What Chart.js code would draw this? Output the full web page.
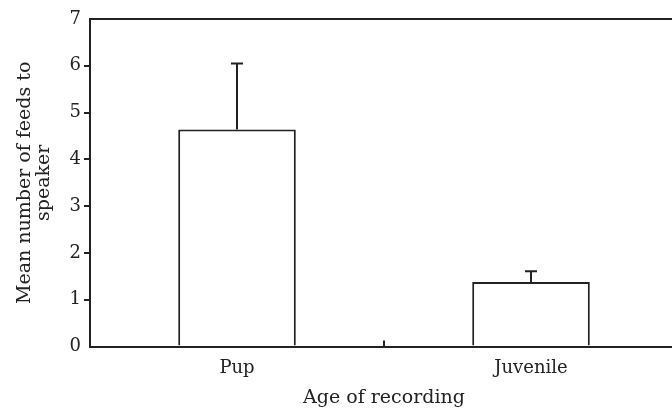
<!DOCTYPE html>
<html>
<head>
<meta charset="utf-8">
<script src="https://cdn.jsdelivr.net/npm/chart.js@4"></script>
<style>
  html, body { margin: 0; padding: 0; background: #fff; overflow: hidden; }
  #wrap { width: 690px; height: 412px; }
</style>
</head>
<body>
<div id="wrap"><canvas id="grafico"></canvas></div>
<script>
// Dados
const categories = ['Pup', 'Juvenile'];
const means = [4.64, 1.38];
const errors = [1.41, 0.23];
const yTicks = [0, 1, 2, 3, 4, 5, 6, 7];

const ink = '#222';
const serif = "'DejaVu Serif', 'Liberation Serif', serif";

// Barras de erro, linha superior e marca entre categorias
const extras = {
  id: 'extras',
  afterDatasetsDraw(chart) {
    const ctx = chart.ctx;
    const x = chart.scales.x;
    const y = chart.scales.y;
    const area = chart.chartArea;
    ctx.save();
    ctx.strokeStyle = ink;
    ctx.lineWidth = 2;

    means.forEach((m, i) => {
      const px = x.getPixelForValue(i);
      const top = y.getPixelForValue(m);
      const end = y.getPixelForValue(m + errors[i]);
      ctx.beginPath();
      ctx.moveTo(px, top);
      ctx.lineTo(px, end);
      ctx.moveTo(px - 6, end);
      ctx.lineTo(px + 6, end);
      ctx.stroke();
    });

    // linha do topo
    ctx.beginPath();
    ctx.moveTo(area.left, area.top);
    ctx.lineTo(area.right + 20, area.top);
    ctx.stroke();

    // marca entre as categorias (para dentro)
    const mid = (x.getPixelForValue(0) + x.getPixelForValue(1)) / 2;
    ctx.beginPath();
    ctx.moveTo(mid, area.bottom);
    ctx.lineTo(mid, area.bottom - 6);
    ctx.stroke();
    ctx.restore();
  }
};

const grafico = new Chart(document.getElementById('grafico').getContext('2d'), {
  type: 'bar',
  data: {
    labels: categories,
    datasets: [{
      data: means,
      backgroundColor: '#fff',
      borderColor: ink,
      borderWidth: 2,
      barPercentage: 0.4,
      categoryPercentage: 1
    }]
  },
  options: {
    responsive: true,
    maintainAspectRatio: false,
    animation: false,
    layout: { padding: { top: 19, right: 12, bottom: 3, left: 0 } },
    plugins: { legend: { display: false }, tooltip: { enabled: false } },
    scales: {
      x: {
        grid: { display: false },
        border: { color: ink, width: 2 },
        ticks: { color: ink, font: { family: serif, size: 18 }, padding: 3 },
        title: {
          display: true,
          text: 'Age of recording',
          color: ink,
          font: { family: serif, size: 19 },
          padding: { top: 4, bottom: 0 }
        }
      },
      y: {
        min: 0,
        max: 7,
        afterBuildTicks: (scale) => { scale.ticks = yTicks.map(v => ({ value: v })); },
        afterFit: (scale) => { scale.width = 90; },
        grid: {
          drawOnChartArea: false,
          tickLength: 6,
          color: (c) => (c.tick && (c.tick.value === 0 || c.tick.value === 7)) ? 'rgba(0,0,0,0)' : ink,
          lineWidth: 2
        },
        border: { color: ink, width: 2 },
        ticks: { color: ink, font: { family: serif, size: 18 }, padding: 3 },
        title: {
          display: true,
          text: ['Mean number of feeds to', 'speaker'],
          color: ink,
          font: { family: serif, size: 19, lineHeight: 1.0 },
          padding: { top: 16, bottom: 0 }
        }
      }
    }
  },
  plugins: [extras]
});
</script>
</body>
</html>
